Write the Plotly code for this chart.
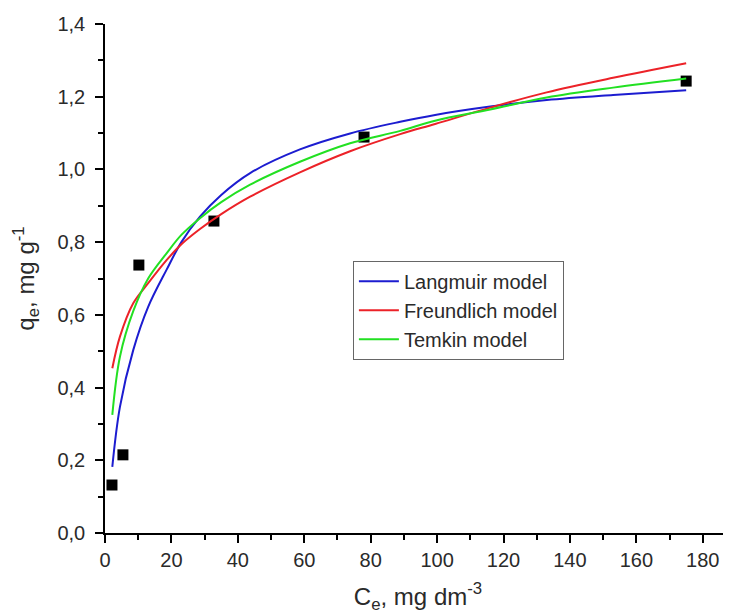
import plotly.graph_objects as go

# Experimental data
ce_exp = [2.1, 5.4, 10.2, 32.8, 78.0, 175.0]
qe_exp = [0.132, 0.215, 0.737, 0.858, 1.089, 1.243]

# Model curves
ce_fit = [2.2, 4.5, 8.5, 13, 18.6, 23, 28.6, 35, 43.7, 58.7, 73.8, 88.9, 99.4, 116, 133, 153, 175]
q_langmuir = [0.182, 0.347, 0.503, 0.622, 0.725, 0.80, 0.87, 0.93, 0.99, 1.055, 1.099, 1.131, 1.15, 1.173, 1.191, 1.205, 1.218]
q_freundlich = [0.453, 0.54, 0.632, 0.687, 0.751, 0.794, 0.836, 0.877, 0.925, 0.992, 1.050, 1.097, 1.125, 1.17, 1.212, 1.252, 1.292]
q_temkin = [0.325, 0.485, 0.61, 0.70, 0.77, 0.82, 0.866, 0.91, 0.958, 1.021, 1.072, 1.106, 1.134, 1.165, 1.198, 1.225, 1.25]

x_ticks = [0, 20, 40, 60, 80, 100, 120, 140, 160, 180]
y_ticks = [0.0, 0.2, 0.4, 0.6, 0.8, 1.0, 1.2, 1.4]

FONT = "Liberation Sans, Arial, sans-serif"
TXT = "#2a2a2a"

fig = go.Figure()
fig.add_trace(go.Scatter(x=ce_exp, y=qe_exp, mode="markers",
                         marker=dict(symbol="square", size=11, color="black"),
                         showlegend=False))
fig.add_trace(go.Scatter(x=ce_fit, y=q_langmuir, mode="lines", name="Langmuir model",
                         line=dict(color="#1c1cd0", width=2, shape="spline")))
fig.add_trace(go.Scatter(x=ce_fit, y=q_freundlich, mode="lines", name="Freundlich model",
                         line=dict(color="#ec2228", width=2, shape="spline")))
fig.add_trace(go.Scatter(x=ce_fit, y=q_temkin, mode="lines", name="Temkin model",
                         line=dict(color="#22e022", width=2, shape="spline")))

fig.update_layout(
    width=723, height=607,
    margin=dict(l=97, r=0, t=16, b=82),
    paper_bgcolor="white", plot_bgcolor="white",
    separators=", ",
    font=dict(family=FONT, size=20, color=TXT),
    legend=dict(x=0.396, y=0.535, xanchor="left", yanchor="top",
                bordercolor="#666", borderwidth=1, bgcolor="white",
                font=dict(size=20, color=TXT), tracegroupgap=0, itemwidth=40),
    xaxis=dict(range=[0, 188.5], tickvals=x_ticks, ticks="outside", ticklen=8,
               tickwidth=1.5, tickcolor="black", showline=True, linecolor="black",
               linewidth=1.5, showgrid=False, zeroline=False,
               tickfont=dict(size=20, color=TXT),
               minor=dict(dtick=10, ticks="outside", ticklen=5, tickwidth=1.5, tickcolor="black"),
               title=dict(text="C<sub>e</sub>, mg dm<sup>-3</sup>", font=dict(size=24, color=TXT), standoff=18)),
    yaxis=dict(range=[0, 1.4], tickvals=y_ticks, tickformat=".1f", ticks="outside", ticklen=8,
               tickwidth=1.5, tickcolor="black", showline=True, linecolor="black",
               linewidth=1.5, showgrid=False, zeroline=False, ticklabelstandoff=6,
               tickfont=dict(size=20, color=TXT),
               minor=dict(dtick=0.1, ticks="outside", ticklen=5, tickwidth=1.5, tickcolor="black"),
               title=dict(text="q<sub>e</sub>, mg g<sup>-1</sup>", font=dict(size=24, color=TXT), standoff=16)),
)

fig.write_html("out.html")
